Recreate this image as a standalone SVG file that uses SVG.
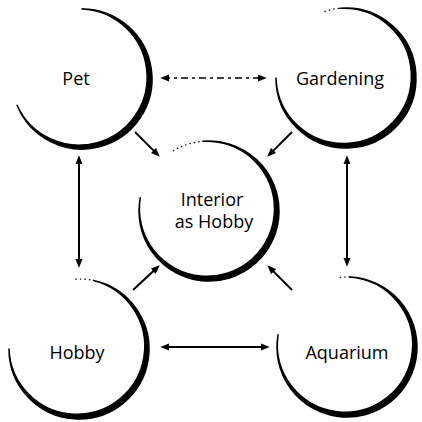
<svg xmlns="http://www.w3.org/2000/svg" width="422" height="422" viewBox="0 0 422 422">
  <defs>
    <marker id="head" viewBox="0 0 10 8" refX="7" refY="4" markerWidth="9" markerHeight="7.5" markerUnits="userSpaceOnUse" orient="auto-start-reverse">
      <path d="M0,0 L10,4 L0,8 Z" fill="#000"/>
    </marker>
    <style>
      .ring { fill: #000; stroke: #000; stroke-width: 1.5; stroke-linejoin: round; }
      .trail { fill: none; stroke: #000; stroke-width: 1.2; stroke-dasharray: 1.5 3; }
      .label { font-family: "Open Sans", "Liberation Sans", sans-serif; font-size: 18px; font-weight: 500; fill: #000; text-anchor: middle; }
      .link { fill: none; stroke: #000; stroke-width: 2; }
      .dashed { stroke-width: 1.5; stroke-dasharray: 7 4 3 4; }
    </style>
  </defs>
  <rect width="422" height="422" fill="#fff"/>

  <!-- brush-stroke rings: outer arc out, tighter inner arc back, so the stroke tapers at both ends -->
  <g id="pet">
    <path class="ring" d="M82,9 A70,70 0 1 1 17.10,105.22 A68.07,68.07 0 1 0 82,9 Z"/>
    <text class="label" x="76" y="85">Pet</text>
  </g>

  <g id="gardening">
    <path class="trail" d="M324.4,11.4 A70,70 0 0 1 339.9,8.27"/>
    <path class="ring" d="M339.9,8.27 A70,70 0 1 1 276,78 A67.69,67.69 0 1 0 339.9,8.27 Z"/>
    <text class="label" x="340" y="85">Gardening</text>
  </g>

  <g id="interior">
    <path class="trail" d="M172.9,151 A70,70 0 0 1 202.9,141.27"/>
    <path class="ring" d="M202.9,141.27 A70,70 0 1 1 140.28,197.64 A67.57,67.57 0 1 0 202.9,141.27 Z"/>
    <text class="label" x="212" y="206">Interior</text>
    <text class="label" x="214" y="228">as Hobby</text>
  </g>

  <g id="hobby">
    <path class="trail" d="M75.3,279.1 A70,70 0 0 1 93.55,280.53"/>
    <path class="ring" d="M93.55,280.53 A70,70 0 1 1 9,349 A67.91,67.91 0 1 0 93.55,280.53 Z"/>
    <text class="label" x="77" y="359">Hobby</text>
  </g>

  <g id="aquarium">
    <path class="trail" d="M339.7,277.4 A70,70 0 0 1 349.44,277.04"/>
    <path class="ring" d="M349.44,277.04 A70,70 0 1 1 278.06,334.84 A67.65,67.65 0 1 0 349.44,277.04 Z"/>
    <text class="label" x="347" y="359">Aquarium</text>
  </g>

  <g id="connectors">
    <line class="link dashed" x1="163" y1="78" x2="264" y2="78" marker-start="url(#head)" marker-end="url(#head)"/>
    <line class="link" x1="135" y1="132" x2="157.9" y2="154.9" marker-end="url(#head)"/>
    <line class="link" x1="292" y1="132" x2="269.1" y2="154.9" marker-end="url(#head)"/>
    <line class="link" x1="133" y1="290" x2="157.8" y2="267" marker-end="url(#head)"/>
    <line class="link" x1="292" y1="290" x2="269.2" y2="267.1" marker-end="url(#head)"/>
    <line class="link" x1="79" y1="158" x2="79" y2="265" marker-start="url(#head)" marker-end="url(#head)"/>
    <line class="link" x1="347" y1="158" x2="347" y2="264" marker-start="url(#head)" marker-end="url(#head)"/>
    <line class="link" x1="163" y1="347" x2="267" y2="347" marker-start="url(#head)" marker-end="url(#head)"/>
  </g>
</svg>
